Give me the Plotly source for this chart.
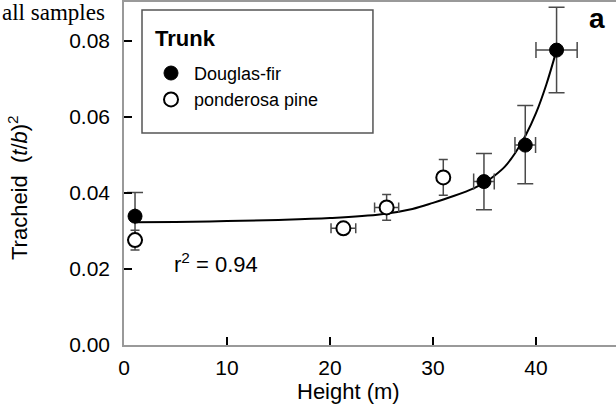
import plotly.graph_objects as go

# ---- data ----
df_height = [1.07, 34.95, 38.96, 42.0]
df_value = [0.0339, 0.0430, 0.0526, 0.0776]
df_yerr_plus = [0.0062, 0.0074, 0.0104, 0.0113]
df_yerr_minus = [0.0062, 0.0074, 0.0102, 0.0112]
df_xerr = [0.0, 1.0, 1.0, 2.0]

pp_height = [1.07, 21.3, 25.5, 31.0]
pp_value = [0.0276, 0.0307, 0.0362, 0.0441]
pp_yerr = [0.0026, 0.0010, 0.0034, 0.0047]
pp_xerr = [0.0, 1.2, 1.17, 0.0]

fit_x = [1, 5, 10, 15, 20, 25, 28, 30, 32, 34, 35, 36, 37, 38, 39, 40, 41, 42]
fit_y = [0.0323, 0.0324, 0.0326, 0.0329, 0.0334, 0.0344, 0.0358, 0.0374, 0.0392,
         0.0413, 0.0427, 0.0446, 0.0470, 0.0506, 0.0552, 0.0610, 0.0685, 0.0776]

x_ticks = [0, 10, 20, 30, 40]
y_ticks = [0.00, 0.02, 0.04, 0.06, 0.08]
y_tick_labels = ["0.00", "0.02", "0.04", "0.06", "0.08"]

FONT = "Liberation Sans, Arial, sans-serif"
ERR = "#4a4a4a"

fig = go.Figure()

fig.add_trace(go.Scatter(
    x=fit_x, y=fit_y, mode="lines", line=dict(color="black", width=2, shape="spline"),
    showlegend=False, hoverinfo="skip"))

fig.add_trace(go.Scatter(
    x=df_height, y=df_value, mode="markers", name="Douglas-fir",
    marker=dict(symbol="circle", size=14, color="black", line=dict(color="black", width=1)),
    error_y=dict(type="data", array=df_yerr_plus, arrayminus=df_yerr_minus,
                 color=ERR, thickness=1.5, width=8),
    error_x=dict(type="data", array=df_xerr, color=ERR, thickness=1.5, width=8)))

fig.add_trace(go.Scatter(
    x=pp_height, y=pp_value, mode="markers", name="ponderosa pine",
    marker=dict(symbol="circle", size=14, color="white", line=dict(color="black", width=2)),
    error_y=dict(type="data", array=pp_yerr, color=ERR, thickness=1.5, width=4.5),
    error_x=dict(type="data", array=pp_xerr, color=ERR, thickness=1.5, width=5)))

fig.update_layout(
    width=616, height=412,
    margin=dict(l=124, r=0, t=2, b=67),
    plot_bgcolor="white", paper_bgcolor="white",
    font=dict(family=FONT, color="black", size=21),
    legend=dict(
        x=0.0488, y=0.8460, xanchor="left", yanchor="top",
        borderwidth=0, bgcolor="rgba(0,0,0,0)",
        font=dict(size=18, family=FONT),
        itemsizing="trace", itemwidth=36,
    ),
    shapes=[
        dict(type="rect", xref="paper", yref="paper", x0=0.0366, x1=0.506,
             y0=0.618, y1=0.9767, line=dict(color="#555555", width=1.5),
             fillcolor="white", layer="below"),
    ],
    xaxis=dict(
        range=[0, 47.77], tickmode="array", tickvals=x_ticks,
        ticks="inside", ticklen=8, tickwidth=2, tickcolor="black",
        showline=True, linecolor="#999999", linewidth=1.5, mirror=True,
        showgrid=False, zeroline=False, tickfont=dict(size=21),
        ticklabelstandoff=3,
    ),
    yaxis=dict(
        range=[0, 0.09026], tickmode="array", tickvals=y_ticks, ticktext=y_tick_labels,
        ticks="inside", ticklen=8, tickwidth=2, tickcolor="black",
        showline=True, linecolor="#999999", linewidth=1.5, mirror=False,
        showgrid=False, zeroline=False, tickfont=dict(size=21),
        ticklabelstandoff=8,
    ),
    annotations=[
        dict(text="<b>Trunk</b>", xref="paper", yref="paper", x=0.0589, y=0.8950,
             xanchor="left", yanchor="middle", showarrow=False, font=dict(size=22)),
        dict(text="Height (m)", xref="paper", yref="paper", x=0.4563, y=-0.135,
             xanchor="center", yanchor="middle", showarrow=False, font=dict(size=22)),
        dict(text="Tracheid  (<i>t</i>/<i>b</i>)<sup>2</sup>", xref="paper", yref="paper",
             x=-0.2154, y=0.4577, xanchor="center", yanchor="middle", textangle=-90,
             showarrow=False, font=dict(size=22)),
        dict(text="r<sup>2</sup> = 0.94", xref="paper", yref="paper", x=0.186, y=0.239,
             xanchor="center", yanchor="middle", showarrow=False, font=dict(size=22)),
        dict(text="<b>a</b>", xref="paper", yref="paper", x=0.9604, y=0.952,
             xanchor="center", yanchor="middle", showarrow=False, font=dict(size=28)),
        dict(text="all samples", xref="paper", yref="paper", x=-0.252, y=0.968,
             xanchor="left", yanchor="middle", showarrow=False,
             font=dict(size=23, family="Liberation Serif, Times New Roman, serif")),
    ],
)

fig.write_html("out.html", config={"displayModeBar": False},
               post_script="document.body.style.margin='0';")
